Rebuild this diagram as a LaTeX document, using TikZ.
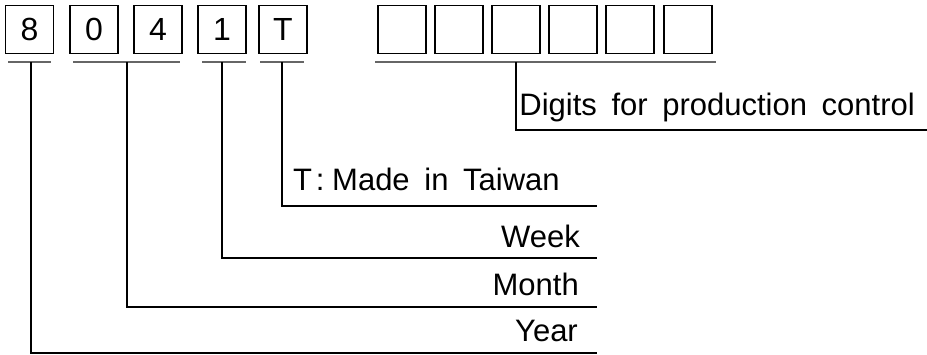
\documentclass[tikz,border=0pt]{standalone}
\usepackage{fontspec}
\setmainfont{Liberation Sans}
\newfontfamily\widefont[WordSpace=1.7]{Liberation Sans}
\begin{document}
\begin{tikzpicture}[x=1pt,y=-1pt,
  digitbox/.style={draw,line width=1.6pt,minimum width=48pt,minimum height=48pt,inner sep=0pt,font=\fontsize{32}{38}\selectfont},
  underline/.style={draw=black!60,line width=1.4pt},
  leader/.style={line width=1.5pt},
  caption/.style={anchor=base east,inner sep=0pt,font=\widefont\fontsize{31}{37}\selectfont}]
\useasboundingbox (0,0) rectangle (927,354);
% code digits
\node[digitbox] (d8) at (29.5,29.5) {8};
\node[digitbox] (d0) at (94,29.5) {0};
\node[digitbox] (d4) at (158,29.5) {4};
\node[digitbox] (d1) at (222,29.5) {1};
\node[digitbox] (dT) at (283,29.5) {T};
% production control digits
\node[digitbox] (p1) at (402,29.5) {};
\node[digitbox] (p2) at (459,29.5) {};
\node[digitbox] (p3) at (516,29.5) {};
\node[digitbox] (p4) at (573,29.5) {};
\node[digitbox] (p5) at (630,29.5) {};
\node[digitbox] (p6) at (688,29.5) {};
% underlines
\draw[underline] (8,62) -- (51,62);
\draw[underline] (73,62) -- (180,62);
\draw[underline] (202,62) -- (246,62);
\draw[underline] (260,62) -- (304,62);
\draw[underline] (375,62) -- (716,62);
\coordinate (uY) at (31,62);
\coordinate (uM) at (127,62);
\coordinate (uW) at (222,62);
\coordinate (uT) at (282,62);
\coordinate (uP) at (516,62);
% line ends
\coordinate (eP) at (927,130);
\coordinate (eT) at (597,206);
\coordinate (eW) at (597,258);
\coordinate (eM) at (597,307);
\coordinate (eY) at (597,353);
% captions
\node[caption] (prod) at (915,115) {Digits for production control};
\node[caption,anchor=base west] (made) at (293,190) {T\hspace{.12em}:\hspace{.25em}Made in Taiwan};
\node[caption] (week) at (580,247) {Week};
\node[caption] (month) at (579,295) {Month};
\node[caption] (year) at (578,341) {Year};
% leaders
\draw[leader] (uP) |- (eP);
\draw[leader] (uT) |- (eT);
\draw[leader] (uW) |- (eW);
\draw[leader] (uM) |- (eM);
\draw[leader] (uY) |- (eY);
\end{tikzpicture}
\end{document}
